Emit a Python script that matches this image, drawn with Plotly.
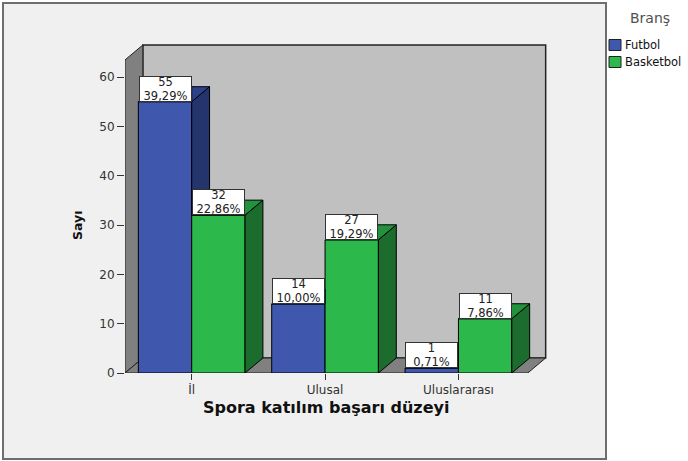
import plotly.graph_objects as go

# ---- data ----
categories = ["İl", "Ulusal", "Uluslararası"]
series_names = ["Futbol", "Basketbol"]
futbol = [55, 14, 1]
basketbol = [32, 27, 11]
futbol_pct = ["39,29%", "10,00%", "0,71%"]
basketbol_pct = ["22,86%", "19,29%", "7,86%"]
y_ticks = [0, 10, 20, 30, 40, 50, 60]

# ---- style constants ----
W, H = 688, 461
ML, MR, MT, MB = 125, 141, 42, 88
X0, XEND = -0.5, 2.52          # front floor extent (x units)
DX, DY = 0.134, 3.04           # 3D depth offset (x units, y units)
YMAX = 67.1
WALL_TOP_BACK = 66.5
BW = 0.4                       # bar width
OFF = 0.2                      # bar offset from category centre

BLUE, BLUE_SIDE, BLUE_TOP = "#3f58ad", "#24346c", "#2c418a"
GREEN, GREEN_SIDE, GREEN_TOP = "#2db84b", "#1b6c2d", "#23923c"
FONT = "DejaVu Sans, Verdana, sans-serif"

fig = go.Figure()

# front faces as real bars
pos_f = [i - OFF for i in range(len(categories))]
pos_b = [i + OFF for i in range(len(categories))]
fig.add_trace(go.Bar(x=pos_f, y=futbol, width=BW, name=series_names[0],
                     marker=dict(color=BLUE, line=dict(color="black", width=1))))
fig.add_trace(go.Bar(x=pos_b, y=basketbol, width=BW, name=series_names[1],
                     marker=dict(color=GREEN, line=dict(color="black", width=1))))


def clip(poly, inside, inter):
    out = []
    n = len(poly)
    for k in range(n):
        p, q = poly[k], poly[(k + 1) % n]
        ip, iq = inside(p), inside(q)
        if ip:
            out.append(p)
        if ip != iq:
            out.append(inter(p, q))
    return out


def clip_y_ge(poly, g):
    def inter(p, q):
        t = (g - p[1]) / (q[1] - p[1])
        return (p[0] + t * (q[0] - p[0]), g)
    return clip(poly, lambda p: p[1] >= g, inter)


def clip_x(poly, xc, le=True):
    def inter(p, q):
        t = (xc - p[0]) / (q[0] - p[0])
        return (xc, p[1] + t * (q[1] - p[1]))
    if le:
        return clip(poly, lambda p: p[0] <= xc, inter)
    return clip(poly, lambda p: p[0] >= xc, inter)


def add_poly(poly, color):
    if len(poly) < 3:
        return
    xs = [p[0] for p in poly] + [poly[0][0]]
    ys = [p[1] for p in poly] + [poly[0][1]]
    fig.add_trace(go.Scatter(x=xs, y=ys, mode="lines", fill="toself",
                             fillcolor=color, line=dict(color="black", width=1),
                             showlegend=False, hoverinfo="skip"))


for i in range(len(categories)):
    # Futbol (left bar) - partially hidden by the Basketbol bar in front-right
    v, g = futbol[i], basketbol[i]
    xl, xr = pos_f[i] - BW / 2, pos_f[i] + BW / 2
    side = [(xr, 0), (xr, v), (xr + DX, v + DY), (xr + DX, DY)]
    add_poly(clip_y_ge(side, g), BLUE_SIDE)
    top = [(xl, v), (xr, v), (xr + DX, v + DY), (xl + DX, v + DY)]
    add_poly(clip_x(top, xr, True), BLUE_TOP)
    add_poly(clip_y_ge(clip_x(top, xr, False), g), BLUE_TOP)
    # Basketbol (right bar)
    v = basketbol[i]
    xl, xr = pos_b[i] - BW / 2, pos_b[i] + BW / 2
    add_poly([(xr, 0), (xr, v), (xr + DX, v + DY), (xr + DX, DY)], GREEN_SIDE)
    add_poly([(xl, v), (xr, v), (xr + DX, v + DY), (xl + DX, v + DY)], GREEN_TOP)

# walls and floor
def path(pts):
    return "M " + " L ".join(f"{x},{y}" for x, y in pts) + " Z"

pw, ph = W - ML - MR, H - MT - MB
def px(xp):
    return (xp - ML) / pw
def py(yp):
    return (H - MB - yp) / ph

shapes = []
shapes.append(dict(type="rect", xref="paper", yref="paper",
                   x0=px(3), x1=px(606), y0=py(459), y1=py(3),
                   fillcolor="#f0f0f0", line=dict(color="#6e6e6e", width=2),
                   layer="below"))
shapes.append(dict(type="path", xref="x", yref="y", layer="below",
                   path=path([(X0 + DX, DY), (XEND + DX, DY), (XEND + DX, WALL_TOP_BACK),
                              (X0 + DX, WALL_TOP_BACK)]),
                   fillcolor="#c0c0c0", line=dict(color="#222", width=1.5)))
shapes.append(dict(type="path", xref="x", yref="y", layer="below",
                   path=path([(X0, 0), (X0, WALL_TOP_BACK - DY), (X0 + DX, WALL_TOP_BACK),
                              (X0 + DX, DY)]),
                   fillcolor="#808080", line=dict(color="#222", width=1)))
shapes.append(dict(type="path", xref="x", yref="y", layer="below",
                   path=path([(X0, 0), (XEND, 0), (XEND + DX, DY), (X0 + DX, DY)]),
                   fillcolor="#808080", line=dict(color="#222", width=1)))

annotations = []
for i in range(len(categories)):
    for xpos, val, pct in ((pos_f[i], futbol[i], futbol_pct[i]),
                           (pos_b[i], basketbol[i], basketbol_pct[i])):
        annotations.append(dict(x=xpos, y=val, xref="x", yref="y",
                                text=f"{val}<br>{pct}", showarrow=False,
                                xanchor="center", yanchor="bottom",
                                width=51, height=24, borderpad=0,
                                bgcolor="white", bordercolor="#333", borderwidth=1,
                                font=dict(family=FONT, size=11.5, color="#222")))
annotations.append(dict(x=(X0 + XEND) / 2, y=py(408), xref="x", yref="paper",
                        xanchor="center", yanchor="middle",
                        text="<b>Spora katılım başarı düzeyi</b>", showarrow=False,
                        font=dict(family=FONT, size=16, color="#111")))
annotations.append(dict(x=px(78), y=py(225), xref="paper", yref="paper",
                        xanchor="center", yanchor="middle",
                        text="<b>Sayı</b>", showarrow=False, textangle=-90,
                        font=dict(family=FONT, size=12.5, color="#111")))

# legend (drawn as swatches + labels to fit the narrow right strip)
annotations.append(dict(x=px(650), y=py(18), xref="paper", yref="paper",
                        xanchor="center", yanchor="middle",
                        text="Branş", showarrow=False,
                        font=dict(family=FONT, size=14, color="#505050")))
for k, (name, col) in enumerate(zip(series_names, [BLUE, GREEN])):
    yc = 45 + 17 * k
    shapes.append(dict(type="rect", xref="paper", yref="paper",
                       x0=px(609), x1=px(621), y0=py(yc + 5.5), y1=py(yc - 5.5),
                       fillcolor=col, line=dict(color="#222", width=1)))
    annotations.append(dict(x=px(623), y=py(yc), xref="paper", yref="paper",
                            xanchor="left", yanchor="middle", text=name,
                            showarrow=False,
                            font=dict(family=FONT, size=11.5, color="#111")))

fig.update_layout(
    width=W, height=H,
    margin=dict(l=ML, r=MR, t=MT, b=MB, pad=0, autoexpand=False),
    paper_bgcolor="white", plot_bgcolor="rgba(0,0,0,0)",
    barmode="overlay",
    shapes=shapes, annotations=annotations,
    font=dict(family=FONT, size=12, color="#333"),
    xaxis=dict(range=[X0, XEND + DX + 0.01], tickvals=list(range(len(categories))),
               ticktext=categories, showgrid=False, zeroline=False, showline=False,
               ticks="outside", ticklen=6, tickcolor="#333",
               tickfont=dict(family=FONT, size=12, color="#333")),
    yaxis=dict(range=[0, YMAX], tickvals=y_ticks, showgrid=False, zeroline=False,
               showline=False, ticks="outside", ticklen=7, tickcolor="#333",
               tickfont=dict(family=FONT, size=12, color="#333")),
    showlegend=False,
)

fig.write_html("out.html")
